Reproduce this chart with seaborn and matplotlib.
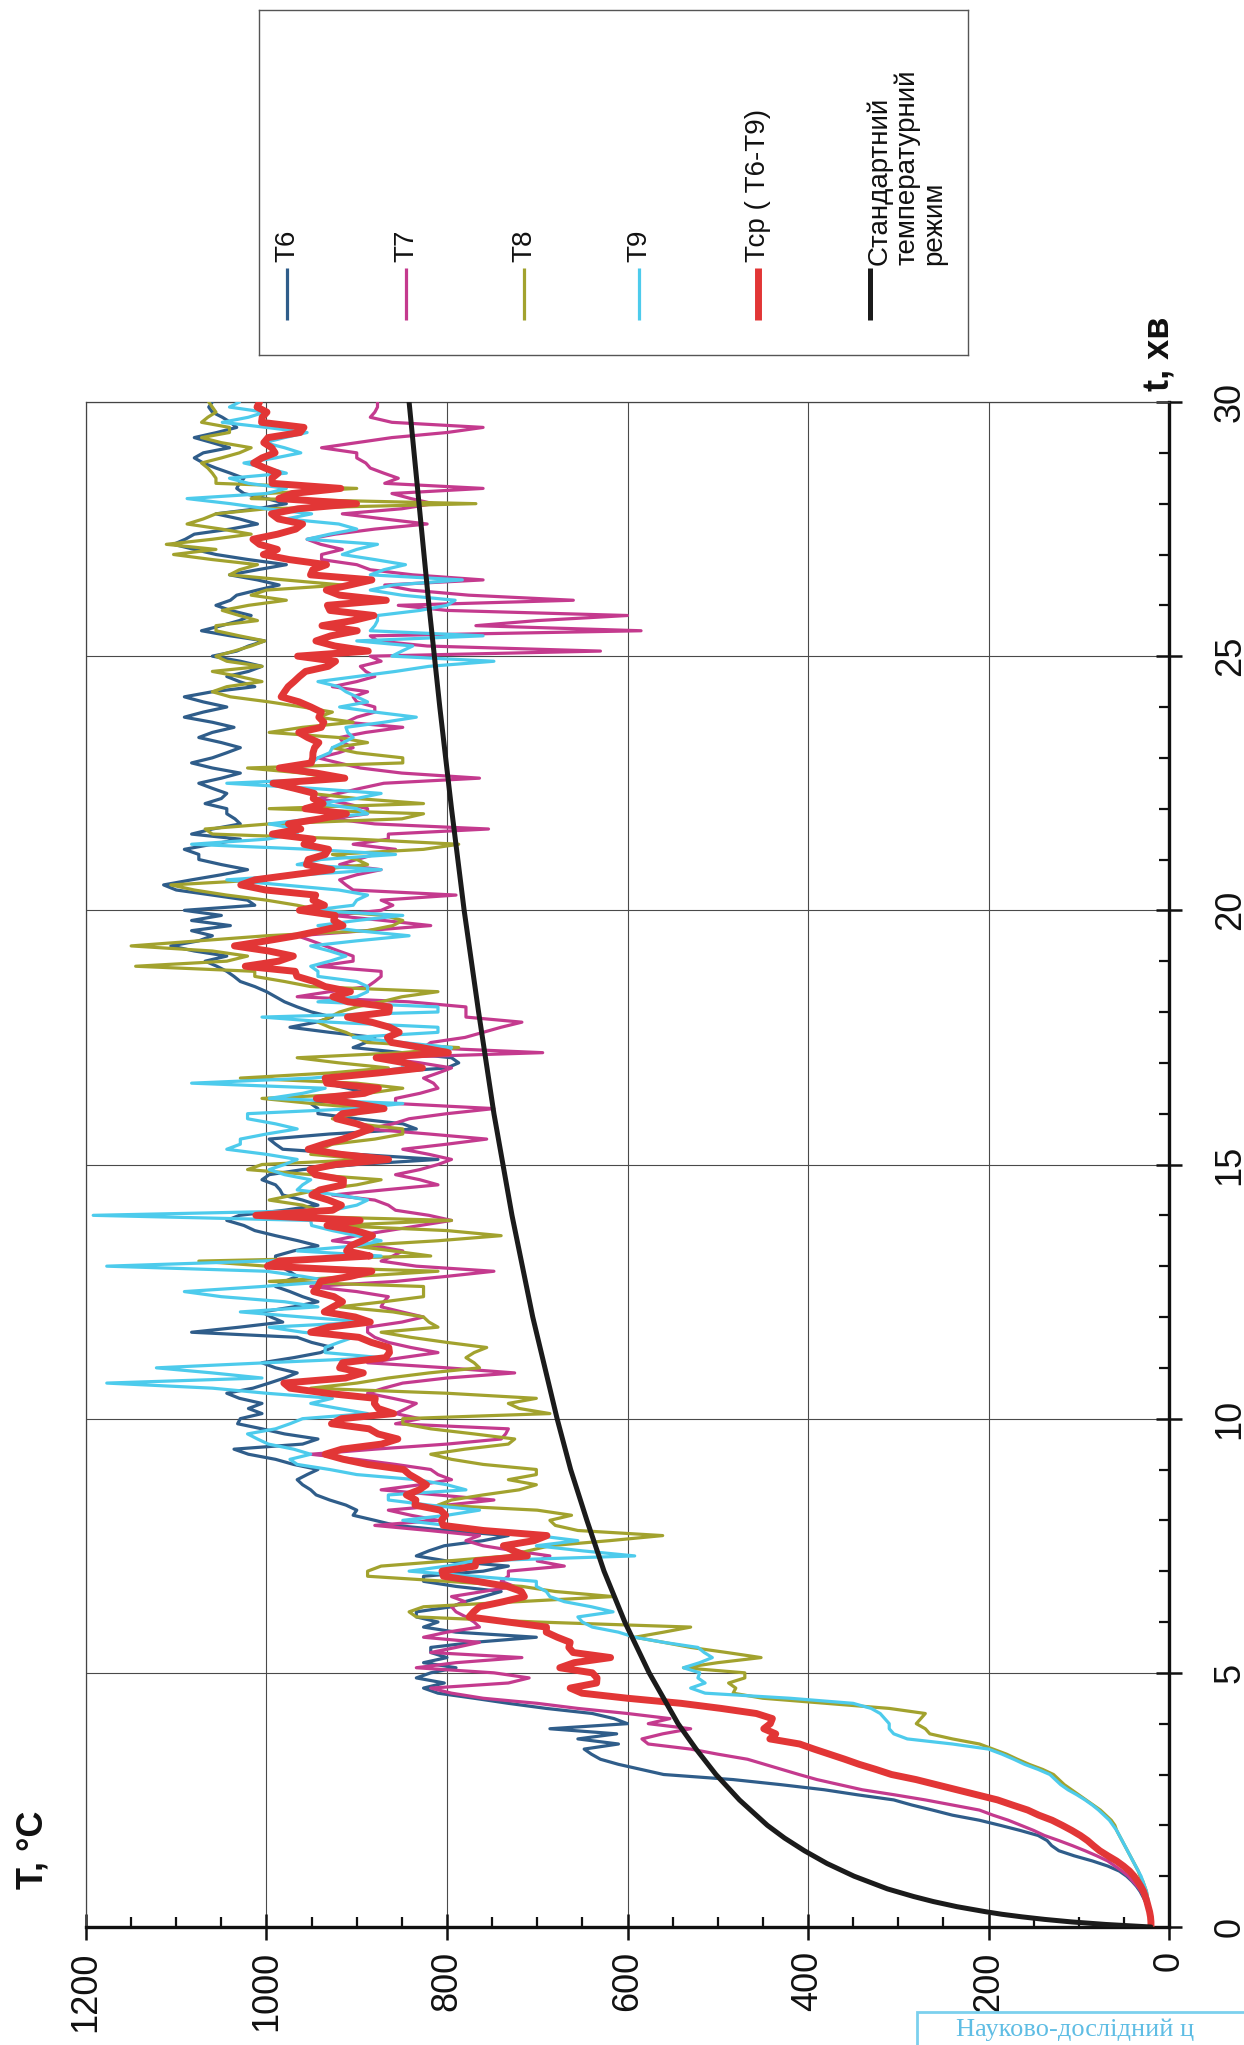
import numpy as np
import pandas as pd
import matplotlib
matplotlib.use("Agg")
import matplotlib.pyplot as plt
import seaborn as sns
from matplotlib.ticker import MultipleLocator
from matplotlib.patches import Rectangle

sns.set_theme(style="white")
plt.rcParams["font.family"] = ["Liberation Sans", "DejaVu Sans"]

# time grid, minutes (one reading every 0.1 min)
time_min = np.round(np.arange(0, 301) * 0.1, 1)

# thermocouple readings, °C (one row per minute)
T6 = [
    20, 20, 21, 22, 24, 26, 29, 32, 36, 41,
    47, 55, 68, 85, 105, 122, 130, 135, 145, 165,
    187, 210, 240, 262, 285, 305, 345, 382, 430, 483,
    560, 585, 610, 630, 640, 648, 610, 655, 612, 686,
    600, 615, 639, 690, 732, 770, 810, 826, 803, 834,
    818, 790, 826, 800, 818, 818, 770, 701, 790, 826,
    810, 834, 834, 795, 780, 760, 740, 790, 826, 826,
    760, 732, 800, 834, 820, 803, 760, 732, 800, 857,
    880, 904, 900, 912, 930, 945, 951, 960, 966, 955,
    943, 970, 990, 1020, 1036, 960, 943, 980, 1005, 1032,
    1029, 1005, 1020, 1005, 1030, 1044, 1015, 997, 980, 966,
    990, 1005, 970, 940, 927, 950, 966, 1083, 1030, 982,
    995, 1005, 970, 943, 960, 974, 990, 980, 966, 975,
    985, 990, 990, 970, 943, 965, 990, 1013, 1025, 1044,
    1030, 980, 943, 960, 982, 985, 990, 1005, 997, 960,
    900, 810, 900, 982, 990, 997, 930, 834, 849, 900,
    943, 943, 951, 920, 888, 910, 935, 935, 880, 800,
    787, 795, 850, 904, 890, 880, 930, 974, 945, 927,
    950, 966, 980, 990, 1000, 1013, 1029, 1036, 1044, 1055,
    1068, 1044, 1080, 1106, 1075, 1060, 1083, 1040, 1083, 1050,
    1091, 1013, 1021, 1060, 1100, 1114, 1083, 1050, 1021, 1050,
    1075, 1075, 1091, 1060, 1029, 1083, 1060, 1029, 1035, 1044,
    1044, 1068, 1050, 1044, 1060, 1075, 1050, 1029, 1060, 1083,
    1060, 1044, 1029, 1050, 1075, 1060, 1036, 1060, 1091, 1070,
    1044, 1070, 1091, 1060, 1013, 1030, 1044, 1020, 1005, 1029,
    1060, 1033, 1020, 1002, 1040, 1072, 1050, 1030, 1017, 1040,
    1056, 1040, 1033, 1010, 986, 1010, 1041, 1010, 978, 1020,
    1056, 1080, 1103, 1090, 1080, 1040, 1010, 1030, 1056, 1010,
    978, 1000, 1025, 1033, 1030, 1025, 1040, 1056, 1070, 1080,
    1070, 1041, 1060, 1080, 1055, 1033, 1040, 1049, 1060, 1064,
    1060,
]

T7 = [
    20, 20, 21, 22, 24, 26, 28, 31, 35, 40,
    45, 52, 60, 68, 80, 93, 107, 122, 138, 150,
    164, 178, 195, 210, 240, 270, 304, 340, 365, 390,
    410, 429, 448, 467, 500, 530, 577, 584, 561, 530,
    577, 553, 600, 655, 700, 760, 795, 818, 732, 709,
    748, 834, 790, 717, 818, 790, 764, 826, 800, 764,
    770, 779, 790, 795, 780, 795, 760, 725, 740, 732,
    732, 670, 700, 686, 725, 760, 779, 764, 820, 880,
    810, 840, 865, 800, 748, 810, 873, 830, 795, 810,
    818, 857, 900, 951, 880, 800, 740, 735, 732, 857,
    830, 857, 845, 834, 860, 888, 870, 849, 800, 725,
    800, 888, 850, 810, 840, 865, 880, 888, 888, 850,
    826, 850, 873, 870, 865, 900, 951, 857, 800, 748,
    834, 873, 860, 849, 880, 927, 900, 865, 830, 795,
    820, 857, 865, 880, 927, 870, 810, 830, 857, 830,
    810, 795, 820, 849, 800, 756, 820, 888, 860, 842,
    800, 748, 857, 857, 830, 810, 815, 826, 810, 795,
    830, 873, 694, 826, 818, 780, 760, 740, 717, 779,
    779, 779, 842, 966, 930, 888, 880, 873, 873, 943,
    904, 904, 920, 935, 950, 966, 890, 818, 870, 927,
    873, 860, 873, 790, 904, 912, 919, 900, 873, 919,
    900, 880, 857, 904, 865, 865, 754, 880, 927, 888,
    888, 912, 943, 920, 896, 870, 764, 850, 896, 920,
    943, 920, 904, 915, 919, 890, 849, 912, 900, 880,
    880, 900, 904, 888, 927, 900, 880, 890, 896, 873,
    885, 630, 822, 877, 885, 585, 768, 700, 600, 800,
    854, 660, 776, 840, 869, 760, 838, 885, 900, 939,
    939, 916, 940, 955, 924, 880, 822, 870, 916, 850,
    815, 840, 861, 760, 869, 854, 870, 885, 890, 900,
    900, 939, 900, 861, 800, 760, 861, 885, 880, 877,
    877,
]

T8 = [
    20, 20, 20, 21, 22, 23, 24, 25, 27, 29,
    32, 34, 37, 40, 43, 46, 49, 52, 55, 58,
    60, 64, 70, 76, 84, 92, 100, 108, 116, 122,
    128, 140, 155, 168, 180, 195, 210, 240, 265, 270,
    280, 275, 270, 310, 380, 450, 483, 480, 488, 470,
    470, 538, 500, 452, 490, 530, 560, 592, 560, 530,
    700, 834, 842, 826, 720, 616, 680, 717, 800, 888,
    888, 873, 800, 732, 710, 686, 620, 561, 655, 680,
    686, 662, 700, 810, 795, 760, 720, 701, 732, 701,
    701, 760, 795, 818, 780, 732, 725, 770, 818, 849,
    849, 686, 720, 732, 701, 800, 951, 900, 865, 820,
    764, 770, 779, 770, 756, 800, 840, 873, 810, 820,
    826, 860, 919, 870, 826, 826, 826, 997, 900, 810,
    1000, 1075, 818, 860, 904, 810, 740, 800, 927, 795,
    1005, 943, 960, 997, 970, 943, 900, 873, 950, 1021,
    1005, 888, 951, 940, 927, 880, 849, 849, 900, 927,
    900, 888, 950, 1005, 888, 849, 900, 1029, 930, 865,
    920, 966, 850, 787, 888, 900, 912, 930, 943, 930,
    919, 900, 873, 850, 810, 951, 980, 1013, 1013, 1145,
    1044, 1021, 1060, 1150, 1075, 1000, 888, 860, 849, 870,
    940, 966, 1000, 1044, 1080, 1106, 1005, 970, 943, 888,
    900, 927, 826, 787, 900, 1060, 1068, 997, 850, 826,
    997, 826, 900, 951, 970, 982, 927, 960, 1021, 849,
    849, 900, 927, 888, 920, 997, 960, 904, 943, 927,
    960, 997, 1040, 1060, 1044, 1005, 1030, 1060, 1005, 1044,
    1056, 1036, 1017, 1002, 1030, 1056, 1056, 1010, 1030, 1049,
    1020, 978, 1017, 1000, 916, 980, 1041, 1030, 1010, 1060,
    1103, 1056, 1111, 1060, 1017, 1050, 1088, 1070, 1056, 1000,
    768, 1017, 1000, 900, 1056, 1056, 1060, 1065, 1072, 1050,
    1030, 1017, 1050, 1072, 1041, 1041, 1072, 1065, 1056, 1060,
    1064,
]

T9 = [
    20, 20, 20, 21, 22, 23, 24, 25, 27, 29,
    31, 34, 37, 40, 43, 46, 49, 52, 55, 58,
    62, 66, 72, 78, 85, 93, 102, 112, 120, 126,
    132, 145, 160, 172, 185, 200, 240, 290, 305, 310,
    310, 315, 320, 330, 350, 420, 514, 530, 514, 522,
    520, 538, 520, 506, 515, 522, 560, 592, 610, 639,
    650, 655, 616, 640, 670, 686, 690, 701, 701, 770,
    842, 800, 771, 592, 650, 701, 655, 700, 764, 800,
    849, 800, 764, 820, 865, 865, 779, 800, 834, 900,
    930, 966, 974, 951, 970, 998, 1010, 1021, 990, 974,
    960, 888, 920, 951, 927, 1000, 1060, 1177, 1005, 1060,
    1122, 1000, 873, 935, 935, 920, 904, 960, 997, 888,
    960, 1029, 943, 980, 1050, 1091, 1005, 927, 960, 1000,
    1177, 1005, 873, 966, 900, 873, 900, 927, 950, 951,
    1192, 927, 900, 888, 920, 966, 960, 951, 980, 997,
    980, 966, 1000, 1044, 1029, 1029, 1000, 966, 990, 1021,
    1021, 900, 849, 997, 960, 935, 1083, 950, 888, 849,
    849, 880, 800, 795, 850, 904, 810, 810, 930, 1005,
    810, 810, 943, 900, 888, 888, 900, 943, 943, 951,
    930, 912, 930, 951, 900, 842, 900, 943, 900, 849,
    950, 904, 900, 888, 920, 982, 1044, 960, 873, 966,
    940, 857, 951, 1083, 1000, 966, 966, 997, 950, 888,
    900, 943, 900, 873, 950, 1044, 912, 940, 966, 950,
    943, 930, 927, 915, 904, 910, 912, 870, 834, 880,
    919, 888, 900, 912, 920, 943, 900, 857, 820, 748,
    861, 850, 838, 900, 760, 885, 880, 877, 877, 830,
    800, 791, 850, 885, 860, 783, 885, 870, 846, 880,
    916, 900, 877, 955, 930, 900, 920, 978, 950, 1000,
    1040, 1088, 1000, 978, 1020, 1041, 978, 1000, 1025, 990,
    962, 980, 1002, 980, 955, 1000, 1049, 1020, 1002, 1041,
    1030,
]

# standard temperature regime (time, min -> temperature, °C)
std_time = [0, 0.05, 0.1, 0.15, 0.2, 0.25, 0.3, 0.4, 0.5, 0.6, 0.75, 1, 1.25, 1.5,
            1.75, 2, 2.5, 3, 3.5, 4, 5, 6, 7, 8, 9, 10, 12, 14, 16, 18, 20, 22,
            24, 26, 28, 30]
std_temp = [20, 70, 108, 138, 163, 185, 203, 235, 261, 283, 312, 349, 379, 404,
            426, 445, 476, 502, 524, 544, 576, 603, 626, 645, 663, 678, 705, 728,
            748, 765, 781, 795, 808, 820, 831, 842]

sensor_names = ["T6", "T7", "T8", "T9"]
sensor_colors = ["#2f5d8a", "#c43a8e", "#a2a22e", "#4dcbec"]
mean_label = "Тср ( Т6-Т9)"
mean_color = "#e23636"
std_label = "Стандартний\nтемпературний\nрежим"
std_color = "#1b1b1b"

readings = pd.DataFrame({"t": time_min, "T6": T6, "T7": T7, "T8": T8, "T9": T9})
readings["Tcp"] = readings[sensor_names].mean(axis=1)
standard = pd.DataFrame({"t": std_time, "T": std_temp})

W, H = 1244, 2045
fig = plt.figure(figsize=(W / 100, H / 100), dpi=100)
fig.patch.set_facecolor("white")

# main axes: temperature runs horizontally (1200 on the left), time runs upward
ax = fig.add_axes([86 / W, (H - 1927) / H, 1083 / W, 1525 / H])
ax.set_facecolor("white")

line_kw = dict(estimator=None, sort=False, orient="y", ax=ax,
               solid_joinstyle="round", solid_capstyle="round")
for name, col in zip(sensor_names, sensor_colors):
    sns.lineplot(data=readings, x=name, y="t", color=col, linewidth=2.3,
                 zorder=3, **line_kw)
sns.lineplot(data=readings, x="Tcp", y="t", color=mean_color, linewidth=5.0,
             zorder=4, **line_kw)
sns.lineplot(data=standard, x="T", y="t", color=std_color, linewidth=3.6,
             zorder=5, **line_kw)

ax.set_xlim(1200, 0)
ax.set_ylim(0, 30)
ax.set_xlabel("")
ax.set_ylabel("")

ax.xaxis.set_major_locator(MultipleLocator(200))
ax.xaxis.set_minor_locator(MultipleLocator(50))
ax.yaxis.set_major_locator(MultipleLocator(5))
ax.yaxis.set_minor_locator(MultipleLocator(1))
ax.yaxis.tick_right()

ax.grid(True, which="major", color="#4a4a4a", linewidth=0.8, zorder=1)
ax.set_axisbelow(True)

ax.tick_params(axis="x", which="major", direction="inout", length=19, width=1.8,
               labelsize=26, pad=8, labelrotation=90, bottom=True, top=False,
               colors="#111111")
ax.tick_params(axis="x", which="minor", direction="in", length=7, width=1.6,
               bottom=True, top=False, colors="#111111")
ax.tick_params(axis="y", which="major", direction="inout", length=19, width=1.8,
               labelsize=26, pad=22, labelrotation=90, right=True, left=False,
               labelright=True, labelleft=False, colors="#111111")
ax.tick_params(axis="y", which="minor", direction="in", length=7, width=1.6,
               right=True, left=False, colors="#111111")
for lab in ax.get_yticklabels():
    lab.set_verticalalignment("center")
    lab.set_horizontalalignment("left")

for side in ("bottom", "right"):
    ax.spines[side].set_linewidth(2.4)
    ax.spines[side].set_color("#111111")
for side in ("top", "left"):
    ax.spines[side].set_linewidth(0.9)
    ax.spines[side].set_color("#444444")

# axis titles
fig.text(33 / W, 1 - 1850 / H, "T, °C", rotation=90, fontsize=26,
         fontweight="bold", ha="center", va="center", color="#111111")
fig.text(1160 / W, 1 - 354 / H, "t, хв", rotation=90, fontsize=26,
         fontweight="bold", ha="center", va="center", color="#111111")

# legend panel (coordinates in figure pixels, y downward)
lax = fig.add_axes([259 / W, 1 - 355 / H, 709 / W, 345 / H])
lax.set_xlim(259, 968)
lax.set_ylim(355, 10)
lax.set_xticks([])
lax.set_yticks([])
lax.set_facecolor("white")
for sp in lax.spines.values():
    sp.set_linewidth(1.0)
    sp.set_color("#555555")

key_x = [287, 406, 524, 639, 758]
key_labels = sensor_names + [mean_label]
key_colors = sensor_colors + [mean_color]
key_widths = [2.3, 2.3, 2.3, 2.3, 5.0]
for x, lab, col, lw in zip(key_x, key_labels, key_colors, key_widths):
    lax.plot([x, x], [268, 320], color=col, linewidth=lw, solid_capstyle="butt")
    lax.text(x, 262, lab, rotation=90, ha="center", va="bottom", fontsize=20,
             color="#111111")
lax.plot([870, 870], [268, 320], color=std_color, linewidth=3.6,
         solid_capstyle="butt")
lax.text(866, 265, std_label, rotation=90, ha="left", va="bottom", fontsize=20,
         multialignment="left", linespacing=1.05, color="#111111")

# institute stamp at the lower edge
fig.patches.append(Rectangle((917 / W, -0.01), 0.5, (2045 - 2012) / H + 0.01,
                             transform=fig.transFigure, facecolor="white",
                             edgecolor="#7cd0ee", linewidth=2.0))
fig.text(956 / W, 1 - 2041 / H, "Науково-дослідний ц", fontsize=19,
         family=["Liberation Serif", "DejaVu Serif"], color="#5fbde4",
         ha="left", va="bottom")

fig.savefig("out.png", dpi=100, facecolor="white")
